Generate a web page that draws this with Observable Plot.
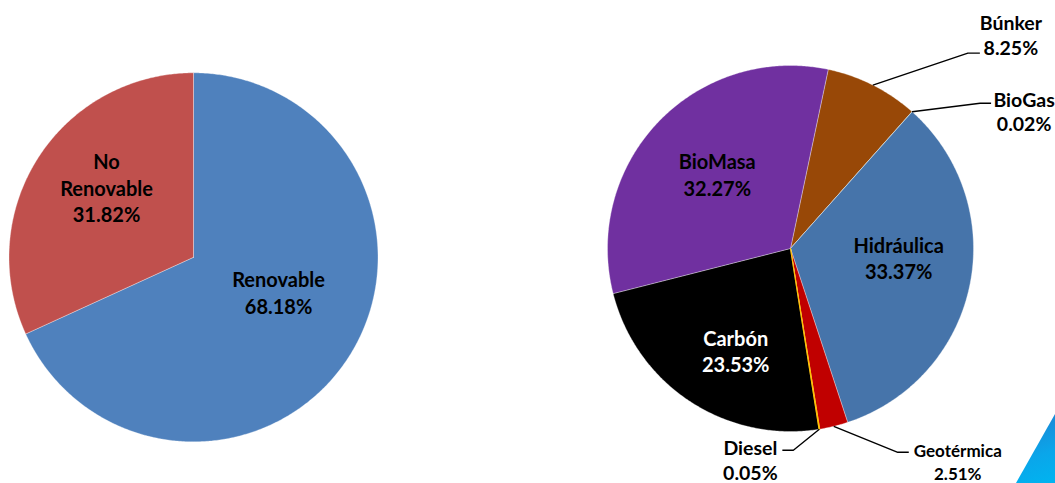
<!DOCTYPE html>
<html><head><meta charset="utf-8">
<script src="https://cdn.jsdelivr.net/npm/d3@7"></script>
<script src="https://cdn.jsdelivr.net/npm/@observablehq/plot@0.6"></script>
<style>
html,body{margin:0;padding:0;background:#fff;overflow:hidden}
#wrap{position:relative;width:1055px;height:483px}
#deco{position:absolute;left:1016px;top:414px;width:39px;height:69px;clip-path:polygon(100% 0,100% 100%,0 100%);background:linear-gradient(160deg,#1f7fd0 0%,#0aa6ea 60%,#00b4f0 100%)}
</style></head><body>
<div id="wrap"><div id="chart"></div><div id="deco"></div></div>
<script>
// ---- data ----
const mixCategories = ["Renovable", "No Renovable"];
const mixValues = [68.18, 31.82];
const sourceCategories = ["Búnker", "BioGas", "Hidráulica", "Geotérmica", "Diesel", "Carbón", "BioMasa"];
const sourceValues = [8.25, 0.02, 33.37, 2.51, 0.05, 23.53, 32.27];

// ---- styles / layout ----
const colorDomain = ["Renovable", "No Renovable", "Búnker", "BioGas", "Hidráulica", "Geotérmica", "Diesel", "Carbón", "BioMasa"];
const colorRange  = ["#4F81BD", "#C0504D", "#984807", "#00B050", "#4674AA", "#C00000", "#FFC000", "#000000", "#7030A0"];
const leftPie  = {cx: 193, cy: 256.8, r: 184.5, start: 0};
const rightPie = {cx: 790, cy: 248, r: 183, start: 11.9};
const insideLayout = {
  "Renovable":    {da: -10.5, rf: 0.498},
  "No Renovable": {da: 6.1,   rf: 0.605, wrap: true},
  "BioMasa":      {da: 1.6,   rf: 0.57},
  "Hidráulica":   {da: -7.1,  rf: 0.593},
  "Carbón":       {da: -5.1,  rf: 0.632, white: true}
};
const outsideLayout = {
  "Búnker":     {elbow: [95, -32],  arm: 12,  text: [31, -18.5], size: 19.5},
  "BioGas":     {elbow: [68, -8.5], arm: 11,  text: [33, 8],     size: 19.5},
  "Diesel":     {elbow: [-26, 21],  arm: -11, text: [-32, 9.5],  size: 19.5},
  "Geotérmica": {elbow: [64, 26],   arm: 11,  text: [49, 9],     size: 17}
};

const rad = d => d * Math.PI / 180;
function pie(cats, vals, geo) {
  const total = d3.sum(vals);
  let a = geo.start;
  const pts = [], slices = [];
  cats.forEach((c, i) => {
    const span = vals[i] / total * 360;
    const a0 = a, a1 = a + span;
    const n = Math.max(2, Math.ceil(span / 0.5));
    pts.push({name: c, x: geo.cx, y: geo.cy});
    for (let k = 0; k <= n; k++) {
      const t = rad(a0 + (a1 - a0) * k / n);
      pts.push({name: c, x: geo.cx + geo.r * Math.sin(t), y: geo.cy - geo.r * Math.cos(t)});
    }
    pts.push({name: c, x: geo.cx, y: geo.cy});
    slices.push({name: c, value: vals[i], mid: (a0 + a1) / 2, geo});
    a = a1;
  });
  return {pts, slices};
}
const L = pie(mixCategories, mixValues, leftPie);
const R = pie(sourceCategories, sourceValues, rightPie);
const allPts = L.pts.concat(R.pts);
const allSlices = L.slices.concat(R.slices);

const fmt = s => `${s.value.toFixed(2)}%`;
const inside = allSlices.filter(s => insideLayout[s.name]).map(s => {
  const o = insideLayout[s.name], t = rad(s.mid + o.da), g = s.geo;
  return {name: s.name, white: !!o.white,
    x: g.cx + o.rf * g.r * Math.sin(t), y: g.cy - o.rf * g.r * Math.cos(t),
    label: (o.wrap ? s.name.replace(" ", "\n") : s.name) + "\n" + fmt(s)};
});
const leaders = [], outside = [];
allSlices.filter(s => outsideLayout[s.name]).forEach(s => {
  const o = outsideLayout[s.name], t = rad(s.mid), g = s.geo;
  const ex = g.cx + g.r * Math.sin(t), ey = g.cy - g.r * Math.cos(t);
  const bx = ex + o.elbow[0], by = ey + o.elbow[1];
  const fx = bx + o.arm;
  leaders.push({name: s.name, x: ex, y: ey}, {name: s.name, x: bx, y: by}, {name: s.name, x: fx, y: by});
  outside.push({name: s.name, x: fx + o.text[0], y: by + o.text[1], label: s.name + "\n" + fmt(s), size: o.size});
});

const font = {fontFamily: "Lato, 'Open Sans', sans-serif", fontWeight: "bold"};
const chart = Plot.plot({
  width: 1055, height: 483, margin: 0,
  x: {domain: [0, 1055], axis: null},
  y: {domain: [483, 0], axis: null},
  color: {domain: colorDomain, range: colorRange},
  style: {background: "white", overflow: "visible"},
  marks: [
    Plot.line(allPts, {x: "x", y: "y", z: "name", fill: "name", stroke: "white", strokeWidth: 0.6, strokeOpacity: 0.55, curve: "linear"}),
    Plot.line(allPts.filter(d => d.name === "Diesel"), {x: "x", y: "y", z: "name", stroke: "name", strokeWidth: 1.2}),
    Plot.line(leaders, {x: "x", y: "y", z: "name", stroke: "black", strokeWidth: 1.4, strokeLinecap: "butt", strokeLinejoin: "miter"}),
    Plot.text(inside.filter(d => !d.white), {x: "x", y: "y", text: "label", fill: "black", fontSize: 20, lineHeight: 1.32, lineAnchor: "middle", ...font}),
    Plot.text(inside.filter(d => d.white), {x: "x", y: "y", text: "label", fill: "white", fontSize: 20, lineHeight: 1.32, lineAnchor: "middle", ...font}),
    Plot.text(outside.filter(d => d.size > 18), {x: "x", y: "y", text: "label", fill: "black", fontSize: 19.5, lineHeight: 1.25, lineAnchor: "middle", ...font}),
    Plot.text(outside.filter(d => d.size <= 18), {x: "x", y: "y", text: "label", fill: "black", fontSize: 17, lineHeight: 1.32, lineAnchor: "middle", ...font})
  ]
});
document.getElementById("chart").appendChild(chart);
</script>
</body></html>
